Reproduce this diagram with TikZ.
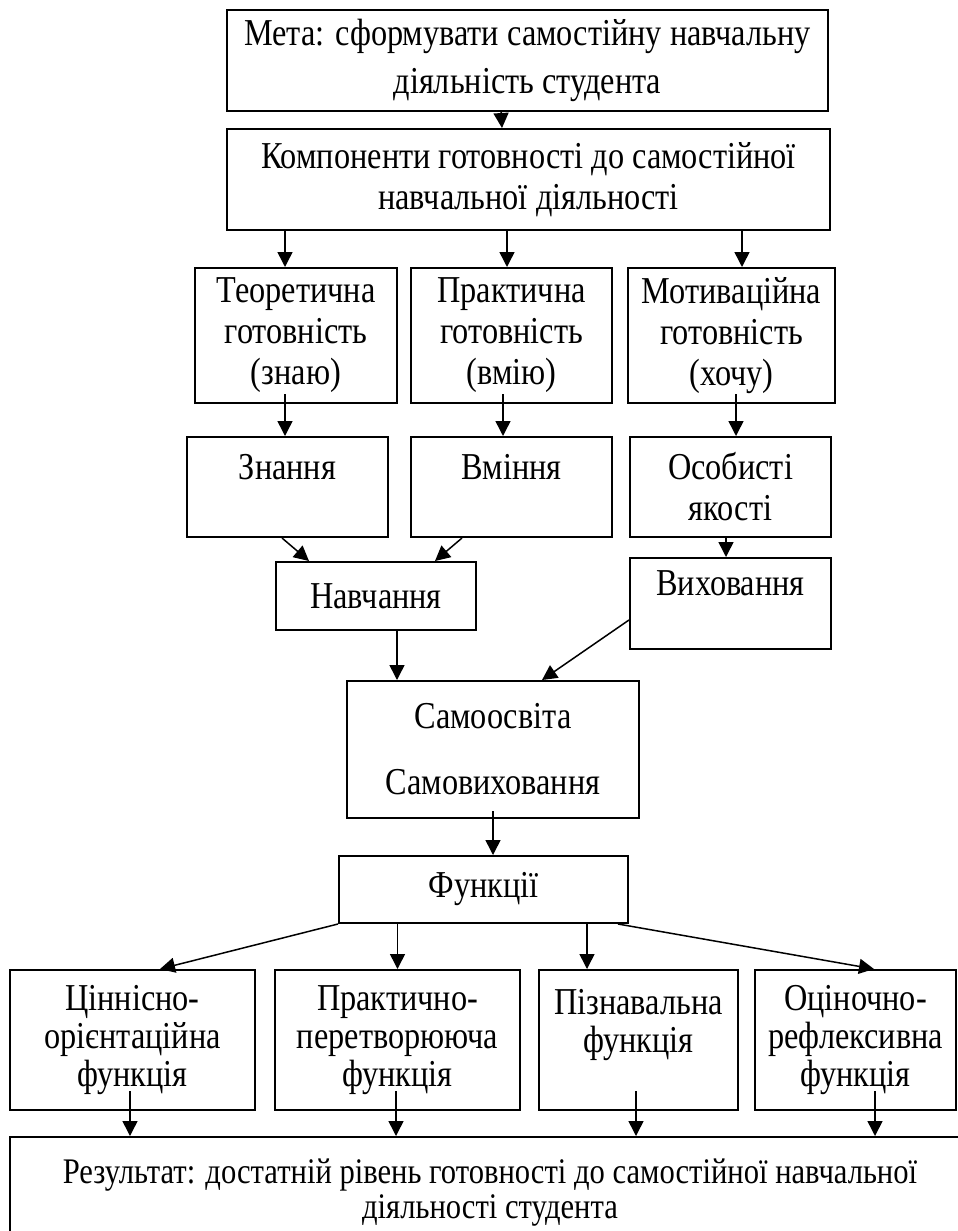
\documentclass[tikz,border=0pt]{standalone}
\usepackage{fontspec}
\setmainfont[FakeStretch=0.85]{Liberation Serif}
\usetikzlibrary{arrows.meta}

\begin{document}
\begin{tikzpicture}[x=1pt, y=-1pt, >={Triangle[length=15pt,width=15pt]},
  blok/.style={draw, line width=2pt, rectangle, align=center, inner sep=0pt,
    font=\fontsize{38}{41}\selectfont},
  strilka/.style={->, line width=1.5pt}]

  \useasboundingbox (0,0) rectangle (958,1231);
  \clip (0,0) rectangle (958,1231);

  \node[blok, minimum width=601pt, minimum height=101pt, font=\fontsize{38}{48}\selectfont] (meta) at (527.5,60.5)
    {Мета: сформувати самостійну навчальну\\діяльність студента};
  \node[blok, minimum width=603pt, minimum height=101pt] (komp) at (528.5,179.5)
    {Компоненти готовності до самостійної\\навчальної діяльності};

  \node[blok, minimum width=202pt, minimum height=135pt] (teor) at (296,335.5) {Теоретична\\готовність\\(знаю)};
  \node[blok, minimum width=201pt, minimum height=135pt] (prak) at (511.5,335.5) {Практична\\готовність\\(вмію)};
  \node[blok, minimum width=207pt, minimum height=135pt] (motyv) at (731.5,335.5) {Мотиваційна\\готовність\\(хочу)};

  \node[blok, minimum width=201pt, minimum height=100pt] (znan) at (287.5,487) {Знання\\~};
  \node[blok, minimum width=201pt, minimum height=100pt] (vmin) at (511.5,487) {Вміння\\~};
  \node[blok, minimum width=201pt, minimum height=100pt] (yak) at (730.5,487) {Особисті\\якості};

  \node[blok, minimum width=200pt, minimum height=68pt] (navch) at (376,596) {Навчання};
  \node[blok, minimum width=201pt, minimum height=91pt] (vykh) at (730.5,603.5) {Виховання\\~};

  \node[blok, minimum width=292pt, minimum height=137pt] (samo) at (493,749.5) {Самоосвіта\\[25pt]Самовиховання};
  \node[blok, minimum width=289pt, minimum height=67pt] (funk) at (483.5,889.5) {Функції};

  \node[blok, minimum width=245pt, minimum height=140pt, font=\fontsize{38}{38}\selectfont] (f1) at (132.5,1040) {Ціннісно-\\орієнтаційна\\функція};
  \node[blok, minimum width=245pt, minimum height=140pt, font=\fontsize{38}{38}\selectfont] (f2) at (397.5,1040) {Практично-\\перетворююча\\функція};
  \node[blok, minimum width=199pt, minimum height=140pt, font=\fontsize{38}{38}\selectfont] (f3) at (638.5,1040) {Пізнавальна\\функція\\~};
  \node[blok, minimum width=201pt, minimum height=140pt, font=\fontsize{38}{38}\selectfont] (f4) at (855.5,1040) {Оціночно-\\рефлексивна\\функція};

  \node[blok, minimum width=960pt, minimum height=112pt, font=\fontsize{36}{35}\selectfont] (rez) at (490,1193)
    {Результат: достатній рівень готовності до самостійної навчальної\\діяльності студента};

  \path[strilka] ([xshift=-26.5pt]meta.south) edge ([xshift=-26.5pt]komp.north)
    ([xshift=-11pt]teor.north |- komp.south) edge ([xshift=-11pt]teor.north)
    ([xshift=-4.5pt]prak.north |- komp.south) edge ([xshift=-4.5pt]prak.north)
    ([xshift=10.5pt]motyv.north |- komp.south) edge ([xshift=10.5pt]motyv.north)
    ([xshift=-11pt,yshift=10pt]teor.south) edge ([xshift=-2.5pt]znan.north)
    ([xshift=-8.5pt,yshift=10pt]prak.south) edge ([xshift=-8.5pt]vmin.north)
    ([xshift=4.5pt,yshift=10pt]motyv.south) edge ([xshift=5.5pt]yak.north)
    ([xshift=-5.5pt]znan.south) edge ([xshift=-67pt]navch.north)
    ([xshift=-49.5pt]vmin.south) edge ([xshift=59pt]navch.north)
    ([xshift=-4.5pt]yak.south) edge ([xshift=-4.5pt]vykh.north)
    ([xshift=21pt]navch.south) edge ([xshift=21pt]navch.south |- samo.north)
    ([yshift=-16.5pt]vykh.west) edge ([xshift=49pt]samo.north)
    ([yshift=8pt]samo.south) edge (samo.south |- funk.north)
    (funk.south west) edge ([xshift=27.5pt]f1.north)
    (f2.north |- funk.south) edge (f2.north)
    ([xshift=-51.5pt]f3.north |- funk.south) edge ([xshift=-51.5pt]f3.north)
    ([xshift=-11pt]funk.south east) edge ([xshift=18.5pt]f4.north)
    ([xshift=-2.5pt,yshift=20pt]f1.south) edge ([xshift=-2.5pt]f1.south |- rez.north)
    ([xshift=-1.5pt,yshift=20pt]f2.south) edge ([xshift=-1.5pt]f2.south |- rez.north)
    ([xshift=-2.5pt,yshift=20pt]f3.south) edge ([xshift=-2.5pt]f3.south |- rez.north)
    ([xshift=19.5pt,yshift=20pt]f4.south) edge ([xshift=19.5pt]f4.south |- rez.north);

\end{tikzpicture}
\end{document}
